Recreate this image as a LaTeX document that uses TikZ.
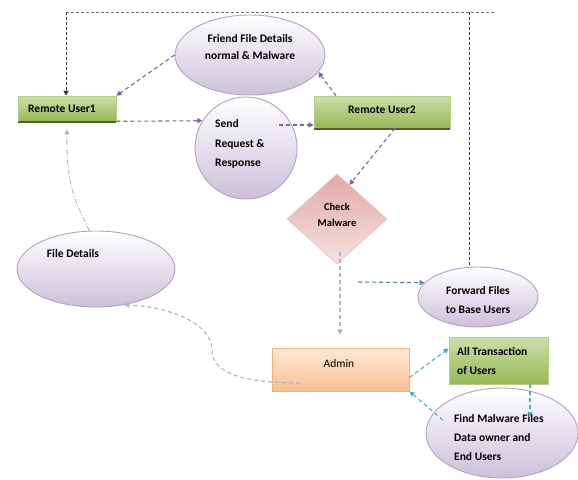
\documentclass[tikz,border=0pt]{standalone}
\usepackage{fontspec}
\setmainfont{Carlito}
\usetikzlibrary{shapes.geometric,arrows.meta}
\definecolor{purp}{RGB}{128,100,162}
\definecolor{lav}{RGB}{185,170,212}
\definecolor{cyanb}{RGB}{75,172,198}
\definecolor{blueb}{RGB}{79,129,189}
\definecolor{ellb}{RGB}{178,161,199}
\definecolor{ellf}{RGB}{204,192,218}
\definecolor{grnt}{RGB}{205,222,170}
\definecolor{grnb}{RGB}{150,185,85}
\definecolor{grnd}{RGB}{79,98,40}
\definecolor{orgt}{RGB}{253,233,217}
\definecolor{orgb}{RGB}{250,191,143}
\definecolor{orgd}{RGB}{247,175,120}
\definecolor{pnkt}{RGB}{245,225,224}
\definecolor{pnkb}{RGB}{226,170,168}
\definecolor{pnkd}{RGB}{217,150,148}
\tikzset{
  ell/.style={ellipse, draw=ellb, line width=0.9pt, top color=white, bottom color=ellf, inner sep=0pt},
  gbox/.style={rectangle, draw=grnb!70!white, line width=0.6pt, top color=grnt, bottom color=grnb, inner sep=0pt},
  lbl/.style={font=\bfseries\fontsize{11.5}{13}\selectfont, inner sep=0pt},
  tip/.style={-{Triangle[length=5pt,width=5pt]}},
  pa/.style={tip, draw=purp, line width=1.1pt, dash pattern=on 4pt off 3pt},
  la/.style={tip, draw=lav, line width=1.1pt, dash pattern=on 4pt off 3pt},
  ca/.style={tip, draw=cyanb, line width=1.1pt, dash pattern=on 4pt off 3pt},
  ba/.style={tip, draw=blueb, line width=1.1pt, dash pattern=on 4pt off 3pt},
  ka/.style={draw=black!80, line width=0.8pt, dash pattern=on 3pt off 2pt},
}
\begin{document}
\begin{tikzpicture}[x=1pt,y=-1pt]
\useasboundingbox (0,0) rectangle (578,479);
% shapes
\node[ell, minimum width=150pt, minimum height=80pt] (fr) at (250,55) {};
\node[lbl, align=center, font=\bfseries\fontsize{11.5}{17}\selectfont] (frt) at (250,47) {Friend File Details\\normal \& Malware};
\node[ell, minimum width=102pt, minimum height=102pt] (send) at (246,148) {};
\node[lbl, align=left, anchor=west, font=\bfseries\fontsize{11.5}{19.5}\selectfont] (sendt) at (215,144) {Send\\Request \&\\Response};
\node[gbox, minimum width=98pt, minimum height=25pt] (ru1) at (67,108.5) {};
\draw[grnd, line width=1.6pt] ([yshift=-0.8pt]ru1.south west) -- ([yshift=-0.8pt]ru1.south east);
\node[lbl] (ru1t) at (62,109) {Remote User1};
\node[gbox, minimum width=136pt, minimum height=32pt] (ru2) at (382,112) {};
\draw[grnd, line width=1.6pt] ([yshift=-0.8pt]ru2.south west) -- ([yshift=-0.8pt]ru2.south east);
\node[lbl] (ru2t) at (382,110) {Remote User2};
\node[diamond, draw=pnkd!60!white, line width=0.6pt, top color=pnkb, bottom color=pnkt, minimum width=100pt, minimum height=90pt, inner sep=0pt] (chk) at (337,219) {};
\node[lbl, align=center, font=\bfseries\fontsize{10.5}{16}\selectfont] (chkt) at (337,215) {Check\\Malware};
\node[ell, minimum width=120pt, minimum height=60pt] (fw) at (478,297) {};
\node[lbl, align=center, font=\bfseries\fontsize{11.5}{19}\selectfont] (fwt) at (478,300) {Forward Files\\to Base Users};
\node[rectangle, draw=orgd, line width=0.8pt, top color=orgt, bottom color=orgb, minimum width=137pt, minimum height=43pt, inner sep=0pt] (adm) at (340.5,369.5) {};
\node[inner sep=0pt, font=\fontsize{11.5}{13}\selectfont] (admt) at (339,364) {Admin};
\node[gbox, minimum width=99pt, minimum height=47pt] (allt) at (498.5,360.5) {};
\node[lbl, align=left, anchor=west, font=\bfseries\fontsize{11.5}{18.5}\selectfont] (alltt) at (457,361) {All Transaction\\of Users};
\node[ell, minimum width=152pt, minimum height=90pt] (fm) at (502,433) {};
\node[lbl, align=left, anchor=west, font=\bfseries\fontsize{11.5}{19}\selectfont] (fmt) at (454,438) {Find Malware Files\\Data owner and\\End Users};
\node[ell, minimum width=158pt, minimum height=76pt] (fd) at (96,269) {};
\node[lbl] (fdt) at (73,254) {File Details};
% free ends
\coordinate (tl) at (66,12);
\coordinate (tr) at (495,12);
\coordinate (tv) at (469,12);
\coordinate (s2) at (279,125);
\coordinate (c1) at (340,252);
\coordinate (f0) at (358,282);
\coordinate (a0) at (300,383);
\coordinate (m0) at (443,420);
\coordinate (t0) at (530,384);
% connectors
\draw[ka, draw=black!55] (tl) -- (tr);
\draw[ka, tip] (tl) -- (tl |- ru1.north);
\draw[ka] (tv) -- (tv |- fw.north);
\draw[pa] (fr.west) -- (ru1.north east);
\draw[pa] (ru1.south east) -- (send.148);
\draw[pa] (s2) -- (s2 -| ru2.west);
\draw[pa] ([xshift=-46pt]ru2.north) -- (fr.-14);
\draw[pa] ([xshift=13pt]ru2.south) -- (chk.70);
\draw[la] (c1) -- ([yshift=13pt]c1 |- adm.north);
\draw[ba] (f0) -- (fw.165);
\draw[la] (a0) .. controls (240,383) and (212,372) .. (212,350) .. controls (212,322) and (165,306) .. (fd.-52);
\draw[la, dash pattern=on 5pt off 2pt on 1pt off 2pt, line width=0.9pt] (fd.100) .. controls (80,208) and (66,195) .. ([yshift=-8pt]ru1.south);
\draw[ca] ([yshift=-8pt]adm.east) -- ([yshift=12pt]allt.west);
\draw[ca] (m0) -- (adm.south east);
\draw[ca] (t0) -- ([yshift=-33pt]t0);
\end{tikzpicture}
\end{document}
